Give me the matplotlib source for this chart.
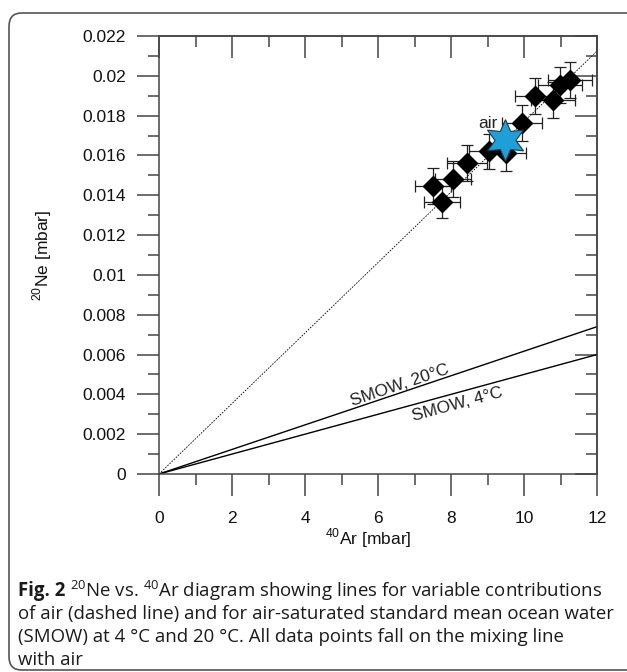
import numpy as np
import matplotlib
matplotlib.use("Agg")
import matplotlib.pyplot as plt
from matplotlib.patches import FancyBboxPatch
from matplotlib.ticker import MultipleLocator, FormatStrFormatter

# --- DATA ---
ar_40 = [7.50, 7.76, 8.06, 8.43, 9.04, 9.50, 9.95, 10.30, 10.80, 10.98, 11.25]
ne_20 = [0.01447, 0.01367, 0.01480, 0.01560, 0.01620, 0.01610, 0.01765,
         0.01900, 0.01880, 0.01955, 0.01980]
ar_err = [0.50, 0.50, 0.50, 0.55, 0.55, 0.55, 0.55, 0.55, 0.60, 0.60, 0.60]
ne_err = [0.0009, 0.0008, 0.0009, 0.0009, 0.0009, 0.0009, 0.0009,
          0.0009, 0.0009, 0.0009, 0.0009]

air_point = (9.48, 0.01678)

line_x = [0, 12]
air_line = [0, 0.02124]
smow20_line = [0, 0.0074]
smow4_line = [0, 0.0060]

x_ticks = [0, 2, 4, 6, 8, 10, 12]
y_ticks = [0, 0.002, 0.004, 0.006, 0.008, 0.01, 0.012, 0.014, 0.016, 0.018, 0.02, 0.022]

caption_lines = [
    r"$^{\mathrm{20}}$Ne vs. $^{\mathrm{40}}$Ar diagram showing lines for variable contributions",
    "of air (dashed line) and for air-saturated standard mean ocean water",
    "(SMOW) at 4 \u00b0C and 20 \u00b0C. All data points fall on the mixing line",
    "with air",
]

# --- STYLE ---
plt.rcParams["font.family"] = ["Liberation Sans", "DejaVu Sans"]
plt.rcParams["mathtext.fontset"] = "custom"
plt.rcParams["mathtext.rm"] = "Open Sans"
plt.rcParams["mathtext.sf"] = "Liberation Sans"

W, H = 627, 672
TICK_C = "#444444"
fig = plt.figure(figsize=(W / 100, H / 100), dpi=100)
ax = fig.add_axes([159 / W, 1 - 474 / H, 438 / W, 438 / H])

ax.set_xlim(0, 12)
ax.set_ylim(0, 0.022)

# mixing lines
ax.plot(line_x, air_line, color="black", lw=0.6, ls=(0, (2, 1.5)), zorder=2)
ax.plot(line_x, smow20_line, color="black", lw=1.0, zorder=2)
ax.plot(line_x, smow4_line, color="black", lw=1.0, zorder=2)

# samples
ax.errorbar(ar_40, ne_20, xerr=ar_err, yerr=ne_err, fmt="none",
            ecolor="#222222", elinewidth=0.9, capsize=4, capthick=0.9, zorder=3)
ax.plot(ar_40, ne_20, ls="none", marker="D", ms=10.5, color="black", zorder=4)

# air
ax.plot(*air_point, ls="none", marker=(6, 1, 0), ms=30,
        markerfacecolor="#1e9fd5", markeredgecolor="#1a3a4a", mew=0.8, zorder=5)
ax.text(9.02, 0.01762, "air", fontsize=12.5, ha="center", va="center",
        color="#222222", zorder=6)


def line_angle(y_end):
    p0 = ax.transData.transform((0, 0))
    p1 = ax.transData.transform((12, y_end))
    return np.degrees(np.arctan2(p1[1] - p0[1], p1[0] - p0[0]))


a20 = line_angle(smow20_line[1])
a4 = line_angle(smow4_line[1])
x20 = 6.63
x4 = 8.11
ax.annotate("SMOW, 20\u00b0C", (x20, smow20_line[1] / 12 * x20), xytext=(0, 2),
            textcoords="offset points", rotation=a20, rotation_mode="anchor",
            ha="center", va="baseline", fontsize=12.5, color="#222222")
ax.annotate("SMOW, 4\u00b0C", (x4, smow4_line[1] / 12 * x4), xytext=(0, -3),
            textcoords="offset points", rotation=a4, rotation_mode="anchor",
            ha="center", va="top", fontsize=12.5, color="#222222")

# ticks: bottom/left outward, top/right inward
ax.xaxis.set_major_locator(plt.FixedLocator(x_ticks))
ax.yaxis.set_major_locator(plt.FixedLocator(y_ticks))
ax.xaxis.set_minor_locator(MultipleLocator(1))
ax.yaxis.set_minor_locator(MultipleLocator(0.001))
ax.yaxis.set_major_formatter(FormatStrFormatter("%g"))
ax.tick_params(which="both", direction="out", color=TICK_C, width=1.1,
               labelsize=12.5, labelcolor="#111111")
ax.tick_params(which="major", length=15.8)
ax.tick_params(which="minor", length=7.9)
ax.tick_params(axis="x", which="major", pad=11)
ax.tick_params(axis="y", which="major", pad=8)

top = ax.secondary_xaxis("top")
top.xaxis.set_major_locator(plt.FixedLocator(x_ticks))
top.xaxis.set_minor_locator(MultipleLocator(1))
top.xaxis.set_ticklabels([])
right = ax.secondary_yaxis("right")
right.yaxis.set_major_locator(plt.FixedLocator(y_ticks))
right.yaxis.set_minor_locator(MultipleLocator(0.001))
right.yaxis.set_ticklabels([])
for sec in (top, right):
    sec.tick_params(which="both", direction="in", color=TICK_C, width=1.1)
    sec.tick_params(which="major", length=15.8)
    sec.tick_params(which="minor", length=7.9)
    for sp in sec.spines.values():
        sp.set_color(TICK_C)
        sp.set_linewidth(1.1)

for sp in ax.spines.values():
    sp.set_color(TICK_C)
    sp.set_linewidth(1.1)

ax.set_xlabel(r"$^{\mathsf{40}}$Ar [mbar]", fontsize=12.5, color="#111111")
ax.set_ylabel(r"$^{\mathsf{20}}$Ne [mbar]", fontsize=12.5, color="#111111")
ax.xaxis.set_label_coords((368 - 159) / 438, (474 - 526) / 438)
ax.yaxis.set_label_coords((54 - 159) / 438, 0.5)

# rounded frame around figure + caption
frame = FancyBboxPatch((9 / W, 2 / H), 660 / W, (H - 13 - 2) / H,
                       boxstyle="round,pad=0,rounding_size=0.02",
                       transform=fig.transFigure, fill=False,
                       edgecolor="#555555", lw=1.2, clip_on=False)
fig.patches.append(frame)

cap_size = 13.4
cap_font = ["Open Sans", "DejaVu Sans"]
renderer = fig.canvas.get_renderer()
t0 = fig.text(18 / W, 1 - 591 / H, "Fig. 2", fontsize=cap_size, fontweight="bold",
              family=cap_font, va="center", color="#1a1a1a")
bb = t0.get_window_extent(renderer)
fig.text((bb.x1 + 5) / W, 1 - 591 / H, caption_lines[0], fontsize=cap_size,
         family=cap_font, va="center", color="#1a1a1a")
for i, line in enumerate(caption_lines[1:]):
    fig.text(18 / W, 1 - (614 + 23 * i) / H, line, fontsize=cap_size,
             family=cap_font, va="center", color="#1a1a1a")

fig.savefig("out.png", dpi=100)
